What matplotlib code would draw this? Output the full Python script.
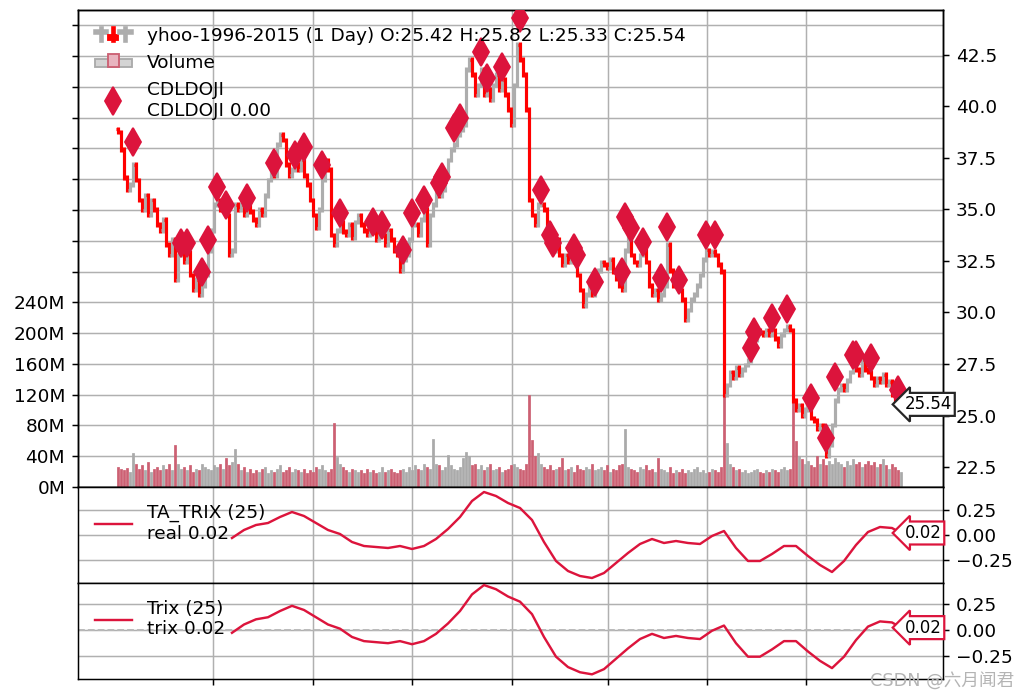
import numpy as np
import matplotlib
matplotlib.use('Agg')
import matplotlib.pyplot as plt
from matplotlib.collections import LineCollection
from matplotlib.legend_handler import HandlerBase
from matplotlib.lines import Line2D
from matplotlib.patches import Rectangle
from matplotlib.ticker import FixedLocator, FuncFormatter

plt.rcParams['font.family'] = ['DejaVu Sans', 'Noto Sans CJK SC']

# ---------------- data ----------------
open0 = 38.90
closes = [
    38.76, 37.89, 36.53, 35.95, 36.19, 37.16, 36.43, 35.46, 34.98, 35.70,
    34.73, 35.46, 34.98, 34.25, 34.00, 34.49, 33.28, 32.79, 33.52, 31.58,
    32.79, 33.03, 32.45, 32.93, 31.82, 31.09, 31.58, 30.85, 31.33, 31.82,
    33.03, 34.00, 35.22, 35.46, 34.98, 35.22, 34.73, 32.79, 33.03, 35.22,
    34.98, 35.22, 34.73, 35.22, 34.88, 34.49, 34.25, 34.98, 34.73, 35.70,
    36.43, 36.92, 36.67, 38.13, 38.62, 38.37, 37.16, 36.67, 36.92, 37.16,
    36.92, 37.40, 36.67, 36.19, 35.46, 34.73, 34.10, 34.98, 36.43, 37.40,
    36.92, 33.76, 33.28, 34.00, 34.39, 33.91, 33.76, 34.25, 33.62, 34.39,
    34.73, 34.25, 34.00, 33.76, 34.25, 33.91, 33.52, 33.76, 33.76, 33.28,
    34.00, 33.52, 33.03, 32.79, 32.06, 32.55, 32.79, 33.52, 34.25, 34.25,
    33.76, 34.49, 34.98, 33.28, 34.73, 35.22, 35.95, 35.70, 35.95, 36.67,
    37.40, 37.89, 38.13, 38.62, 38.86, 39.10, 41.77, 42.26, 41.53, 40.56,
    41.04, 41.77, 40.56, 40.80, 40.32, 41.04, 41.53, 40.80, 41.29, 40.56,
    39.83, 39.10, 41.04, 42.99, 42.26, 41.53, 39.83, 35.46, 34.73, 34.25,
    35.22, 35.22, 34.98, 34.25, 33.28, 33.03, 33.52, 32.79, 32.31, 32.79,
    32.45, 33.03, 32.45, 31.82, 31.09, 30.36, 30.85, 31.33, 30.85, 31.33,
    32.06, 32.45, 32.31, 32.16, 32.55, 31.97, 31.67, 31.33, 31.09, 33.03,
    33.76, 32.79, 32.45, 32.31, 32.79, 33.03, 32.45, 31.33, 30.85, 31.09,
    30.61, 30.85, 31.33, 33.28, 32.06, 31.33, 31.82, 31.09, 30.61, 29.64,
    30.12, 30.61, 30.85, 31.33, 31.82, 32.55, 33.03, 32.79, 32.94, 32.79,
    32.31, 31.97, 26.00, 26.48, 27.11, 26.82, 27.31, 26.97, 27.21, 27.45,
    27.69, 28.42, 28.67, 29.15, 29.05, 28.91, 29.15, 28.91, 29.15, 28.76,
    28.42, 28.91, 29.15, 29.30, 29.15, 25.75, 25.27, 25.51, 25.02, 25.27,
    25.27, 24.88, 24.78, 24.39, 24.54, 23.81, 23.08, 23.57, 24.54, 25.75,
    26.24, 26.48, 26.24, 26.72, 27.11, 27.45, 27.21, 26.97, 27.69, 27.21,
    27.11, 26.82, 26.48, 26.82, 26.63, 26.97, 26.48, 26.63, 26.00, 25.75,
    25.51, 25.54,
]

volumes_m = [
    26, 24, 22, 25, 20, 44, 30, 24, 28, 22, 32, 20, 24, 26, 22, 28, 24, 30, 22, 55,
    30, 24, 26, 22, 28, 20, 24, 22, 30, 26, 24, 22, 28, 26, 30, 24, 38, 28, 32, 50,
    30, 22, 26, 20, 24, 18, 22, 20, 24, 26, 18, 22, 20, 24, 28, 20, 22, 26, 20, 24,
    22, 20, 24, 18, 22, 20, 26, 24, 28, 22, 20, 24, 83, 39, 30, 26, 22, 20, 24, 22,
    20, 22, 18, 24, 20, 22, 18, 20, 26, 20, 22, 24, 20, 18, 22, 24, 20, 26, 22, 28,
    24, 22, 30, 26, 24, 63, 30, 28, 22, 26, 41, 28, 24, 22, 26, 38, 45, 40, 28, 30,
    24, 28, 22, 26, 30, 22, 24, 26, 20, 22, 24, 28, 30, 26, 24, 22, 30, 119, 61, 40,
    44, 30, 26, 24, 28, 22, 24, 26, 38, 22, 24, 26, 20, 28, 24, 22, 26, 24, 30, 22,
    24, 26, 22, 28, 20, 24, 22, 28, 30, 76, 26, 24, 22, 20, 26, 24, 28, 22, 24, 20,
    38, 24, 22, 20, 26, 18, 22, 20, 24, 18, 22, 20, 24, 26, 20, 22, 18, 20, 24, 22,
    20, 26, 206, 57, 30, 26, 22, 24, 20, 22, 18, 20, 22, 24, 20, 18, 22, 20, 24, 22,
    20, 24, 26, 22, 24, 115, 60, 40, 36, 30, 34, 28, 26, 40, 30, 36, 28, 34, 30, 38,
    32, 30, 26, 34, 28, 36, 30, 32, 26, 30, 34, 28, 32, 26, 30, 36, 28, 24, 30, 26, 22, 20,
]

doji_idx = [5, 21, 23, 28, 30, 33, 36, 43, 52, 59, 62, 68, 74, 85, 88, 95, 98,
            102, 107, 108, 112, 114, 121, 123, 128, 134, 141, 144, 145, 152, 153,
            159, 168, 169, 171, 175, 181, 183, 187, 196, 199, 211, 212, 218, 223,
            231, 236, 239, 245, 246, 251, 260]
doji_price = [38.28, 33.37, 33.37, 31.97, 33.52, 36.09, 35.22, 35.56, 37.26, 37.65,
              38.03, 37.16, 34.83, 34.39, 34.25, 33.03, 34.83, 35.46, 36.29, 36.58,
              38.96, 39.44, 42.65, 41.38, 41.92, 44.30, 35.95, 33.76, 33.37, 33.13,
              32.79, 31.48, 31.97, 34.64, 34.10, 33.42, 31.67, 34.15, 31.58, 33.76,
              33.76, 28.28, 29.05, 29.73, 30.17, 25.85, 23.91, 26.87, 27.94, 27.94,
              27.79, 26.24]

trix_idx = list(range(38, 259, 4)) + [261]
trix_vals = [-0.03, 0.05, 0.10, 0.12, 0.18, 0.23, 0.19, 0.12, 0.05, 0.01,
             -0.07, -0.11, -0.12, -0.13, -0.11, -0.14, -0.11, -0.04, 0.06, 0.18,
             0.34, 0.43, 0.39, 0.32, 0.27, 0.15, -0.07, -0.26, -0.36, -0.41,
             -0.43, -0.38, -0.28, -0.18, -0.09, -0.04, -0.08, -0.06, -0.08, -0.09,
             -0.01, 0.04, -0.13, -0.26, -0.26, -0.19, -0.11, -0.11, -0.21, -0.30,
             -0.37, -0.26, -0.10, 0.03, 0.08, 0.07, 0.02]

xtick_pos = [31.7, 65.0, 98.0, 131.3, 163.3, 196.5, 229.3]
price_ticks = [22.5, 25.0, 27.5, 30.0, 32.5, 35.0, 37.5, 40.0, 42.5]
vol_ticks = list(range(0, 601, 40))
trix_ticks = [-0.25, 0.0, 0.25]

data_label = 'yhoo-1996-2015 (1 Day) O:25.42 H:25.82 L:25.33 C:25.54'

# ---------------- style ----------------
BAR_UP = '0.68'
BAR_DOWN = 'red'
VOL_UP = '#aaaaaa'
VOL_DOWN = '#cc6073'
CRIMSON = '#dc143c'

DPI = 133.333
fig = plt.figure(figsize=(1025 / DPI, 699 / DPI), dpi=DPI)
L, R = 78 / 1025, 943 / 1025
ax_vol = fig.add_axes([L, 1 - 487 / 699, R - L, 477 / 699])
ax_price = ax_vol.twinx()
ax_t1 = fig.add_axes([L, 1 - 583 / 699, R - L, 96 / 699], sharex=ax_vol)
ax_t2 = fig.add_axes([L, 1 - 679 / 699, R - L, 96 / 699], sharex=ax_vol)

x = np.arange(len(closes))
opens = [open0] + closes[:-1]
up = [c >= o for o, c in zip(opens, closes)]

# volume
vcols = [VOL_UP if u else VOL_DOWN for u in up]
ax_vol.bar(x, volumes_m, width=0.8, color=vcols, edgecolor=vcols, linewidth=0.4, zorder=2)
ax_vol.set_ylim(0, 620)
ax_vol.yaxis.set_major_locator(FixedLocator(vol_ticks))
ax_vol.yaxis.set_major_formatter(FuncFormatter(lambda v, p: f'{int(v)}M' if v <= 240 else ''))
ax_vol.grid(True, color='#b0b0b0', lw=0.8)
ax_vol.set_axisbelow(True)

# price bars
segs, cols = [], []
for i, (o, c) in enumerate(zip(opens, closes)):
    col = BAR_UP if c >= o else BAR_DOWN
    segs.append([(i, min(o, c) - 0.12), (i, max(o, c) + 0.12)])
    segs.append([(i - 0.5, o), (i, o)])
    segs.append([(i, c), (i + 0.5, c)])
    cols += [col] * 3
ax_price.add_collection(LineCollection(segs, colors=cols, linewidths=1.7, zorder=3))
ax_price.plot(doji_idx, doji_price, ls='none', marker='d', ms=10.5, color=CRIMSON,
              mec=CRIMSON, zorder=4)
ax_price.set_ylim(21.53, 44.68)
ax_price.yaxis.set_major_locator(FixedLocator(price_ticks))
ax_price.yaxis.set_major_formatter(FuncFormatter(lambda v, p: f'{v:.1f}'))
ax_price.grid(False)
ax_price.text(len(closes) + 0.3, closes[-1], f'{closes[-1]:.2f}', va='center', ha='left',
              fontsize=9, zorder=10,
              bbox=dict(boxstyle='larrow,pad=0.15', fc='white', ec='0.15', lw=1.2))

ax_vol.set_xlim(-13.33, 275)
for a in (ax_vol, ax_t1, ax_t2):
    a.xaxis.set_major_locator(FixedLocator(xtick_pos))
    a.tick_params(axis='x', labelbottom=False)
ax_vol.tick_params(axis='x', length=0)
ax_t1.tick_params(axis='x', length=0)

# trix panels
for a, lab in ((ax_t1, 'TA_TRIX (25)\nreal 0.02'), (ax_t2, 'Trix (25)\ntrix 0.02')):
    a.plot(trix_idx, trix_vals, color=CRIMSON, lw=1.3, label=lab, zorder=3)
    a.yaxis.tick_right()
    a.yaxis.set_major_locator(FixedLocator(trix_ticks))
    a.yaxis.set_major_formatter(FuncFormatter(lambda v, p: f'{v:.2f}'.replace('-', '\u2212')))
    a.grid(True, color='#b0b0b0', lw=0.8)
    a.set_axisbelow(True)
    a.legend(loc='upper left', frameon=False, fontsize=10)
    a.text(len(closes) + 0.3, trix_vals[-1], f'{trix_vals[-1]:.2f}', va='center', ha='left',
           fontsize=9, zorder=10,
           bbox=dict(boxstyle='larrow,pad=0.15', fc='white', ec=CRIMSON, lw=1.2))
ax_t1.set_ylim(-0.48, 0.48)
ax_t2.set_ylim(-0.475, 0.45)
ax_t2.axhline(0.0, color='#b8b8b8', ls='--', lw=1.0, zorder=2)


# legend for main panel
class OHLCHandler(HandlerBase):
    def create_artists(self, legend, orig_handle, xdescent, ydescent, width, height, fontsize, trans):
        x0, y0 = -xdescent, -ydescent
        arts = []
        for fx, col in ((0.17, BAR_UP), (0.5, BAR_DOWN), (0.83, BAR_UP)):
            cx = x0 + fx * width
            arts.append(Line2D([cx, cx], [y0 + 0.05 * height, y0 + 0.95 * height], color=col,
                               lw=2.5, transform=trans))
            if col == BAR_DOWN:
                arts.append(Rectangle((cx - 0.13 * width, y0 + 0.05 * height), 0.26 * width,
                                      0.4 * height, fc=col, ec=col, transform=trans))
            else:
                arts.append(Line2D([cx - 0.14 * width, cx + 0.14 * width],
                                   [y0 + 0.7 * height] * 2, color=col, lw=3, transform=trans))
        return arts


class VolHandler(HandlerBase):
    def create_artists(self, legend, orig_handle, xdescent, ydescent, width, height, fontsize, trans):
        x0, y0 = -xdescent, -ydescent
        r1 = Rectangle((x0, y0 + 0.1 * height), width, 0.6 * height, fc='#d4d4d4', ec='#aaaaaa',
                       lw=1, transform=trans)
        r2 = Rectangle((x0 + 0.35 * width, y0 + 0.1 * height), 0.3 * width, 1.0 * height,
                       fc='#e8b4bf', ec=VOL_DOWN, lw=1, transform=trans)
        return [r1, r2]


class _P:
    pass


h_ohlc, h_vol = _P(), _P()
h_doji = Line2D([], [], ls='none', marker='d', ms=10.5, color=CRIMSON)
ax_price.legend([h_ohlc, h_vol, h_doji], [data_label, 'Volume', 'CDLDOJI\nCDLDOJI 0.00'],
                handler_map={h_ohlc: OHLCHandler(), h_vol: VolHandler()},
                loc='upper left', frameon=False, fontsize=10)

fig.text(0.990, 0.026, 'CSDN @六月闻君', ha='right', va='center', fontsize=9.5,
         color='#b4b4b4', family=['DejaVu Sans', 'Noto Sans CJK SC'])

fig.savefig('out.png', dpi=DPI)
